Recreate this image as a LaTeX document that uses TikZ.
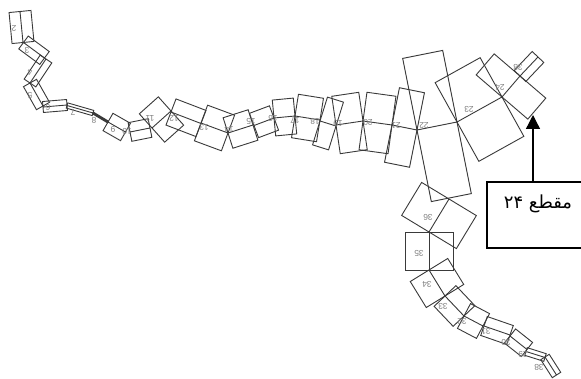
\documentclass[tikz,border=0pt]{standalone}
\usepackage{fontspec}
\usetikzlibrary{calc,arrows.meta}
\newfontfamily\arabicfont[Script=Arabic]{DejaVu Sans}
\setsansfont{Liberation Sans}
\TeXXeTstate=1
\definecolor{segcolor}{HTML}{3A3A3A}
\definecolor{numcolor}{HTML}{808080}
\tikzset{
  segline/.style={draw=segcolor,line width=0.9pt},
  seglabel/.style={text=numcolor,font=\sffamily\fontsize{8.5}{8.5}\selectfont,inner sep=0pt,rotate=180},
  calloutbox/.style={draw=black,line width=1.3pt,minimum width=97pt,minimum height=66pt,inner sep=0pt}
}
\newcommand{\seg}[3]{%
  \draw[segline] ($(#1)!#3pt!90:(#2)$) -- ($(#2)!#3pt!-90:(#1)$) -- ($(#2)!#3pt!90:(#1)$) -- ($(#1)!#3pt!-90:(#2)$) -- cycle (#1) -- (#2);}
\begin{document}
\begin{tikzpicture}[x=1pt,y=-1pt]
    \useasboundingbox (0,0) rectangle (581,379);
    \fill[white] (0,0) rectangle (581,379);
    \seg{20,11.5}{23,42.5}{11}
    \seg{23.5,42.5}{44.5,58}{8}
    \seg{46,59}{30,83}{7}
    \seg{30,83}{43,106}{7.5}
    \seg{43,107}{67,105}{5.5}
    \seg{67,105.5}{93,113}{2.7}
    \seg{93,113}{108,122}{1}
    \seg{108,122}{125.5,132}{10}
    \seg{130,132}{150,128}{9.5}
    \seg{152,128}{171,111}{19}
    \seg{171,112}{201,123.5}{14}
    \seg{201,123}{228,133}{19}
    \seg{228,133}{253,125}{16}
    \seg{254,125.5}{274,118}{13}
    \seg{274,118}{295,116}{18}
    \seg{295,116}{320,120}{22}
    \seg{320,121}{336,126}{25}
    \seg{336,125}{363,121}{29}
    \seg{363,121}{392,125}{29}
    \seg{392,125}{417,130}{38}
    \seg{417,130}{457,122}{73}
    \seg{457,122}{502,97}{45}
    \seg{502,97}{520,76}{34}
    \seg{520,76}{538,57}{8}
    \seg{449,199}{429,232}{32}
    \seg{429,232}{429,270}{24}
    \seg{429,270}{445,296}{22}
    \seg{445,296}{464,316}{15}
    \seg{464,316}{483,326}{14}
    \seg{484,326}{510,335}{10}
    \seg{510,336}{527,349.5}{9}
    \seg{526,351.5}{545,357.5}{4}
    \seg{545,357}{556.5,375}{5}
    \node[seglabel] (n2) at (14,28) {2};
    \node[seglabel] (n3) at (27,50) {3};
    \node[seglabel] (n4) at (30,72) {4};
    \node[seglabel] (n5) at (30,95) {5};
    \node[seglabel] (n6) at (48,107) {6};
    \node[seglabel] (n7) at (73,112) {7};
    \node[seglabel] (n8) at (94,120) {8};
    \node[seglabel] (n9) at (113,129) {9};
    \node[seglabel] (n10) at (127,131) {10};
    \node[seglabel] (n11) at (150,118) {11};
    \node[seglabel] (n12) at (174,118) {12};
    \node[seglabel] (n13) at (204,127) {13};
    \node[seglabel] (n14) at (229,129) {14};
    \node[seglabel] (n15) at (251,121) {15};
    \node[seglabel] (n16) at (273,118) {16};
    \node[seglabel] (n17) at (295,120) {17};
    \node[seglabel] (n18) at (315,121) {18};
    \node[seglabel] (n19) at (338,123) {19};
    \node[seglabel] (n20) at (368,122) {20};
    \node[seglabel] (n21) at (396,125) {21};
    \node[seglabel] (n22) at (424,125) {22};
    \node[seglabel] (n23) at (469,109) {23};
    \node[seglabel] (n24) at (500,87) {24};
    \node[seglabel] (n25) at (518,67) {38};
    \node[seglabel] (n36) at (428,217) {36};
    \node[seglabel] (n35) at (419,253) {35};
    \node[seglabel] (n34) at (427,284) {34};
    \node[seglabel] (n33) at (443,306) {33};
    \node[seglabel] (n32) at (462,321) {32};
    \node[seglabel] (n31) at (486,331) {31};
    \node[seglabel] (n30) at (506,342) {30};
    \node[seglabel] (n29) at (523,354) {29};
    \node[seglabel] (n28) at (539,367) {38};
    \node[calloutbox] (callout) at (535.5,215) {};
    \node (calloutlabel) at (538,204) {\arabicfont\fontsize{18}{18}\selectfont\beginR مقطع \beginL ۲۴\endL\endR};
    \coordinate (segtip) at (533,115);
    \draw[-{Triangle[length=14pt,width=14pt]},line width=1.3pt] (callout.north -| segtip) -- (segtip);
\end{tikzpicture}
\end{document}
